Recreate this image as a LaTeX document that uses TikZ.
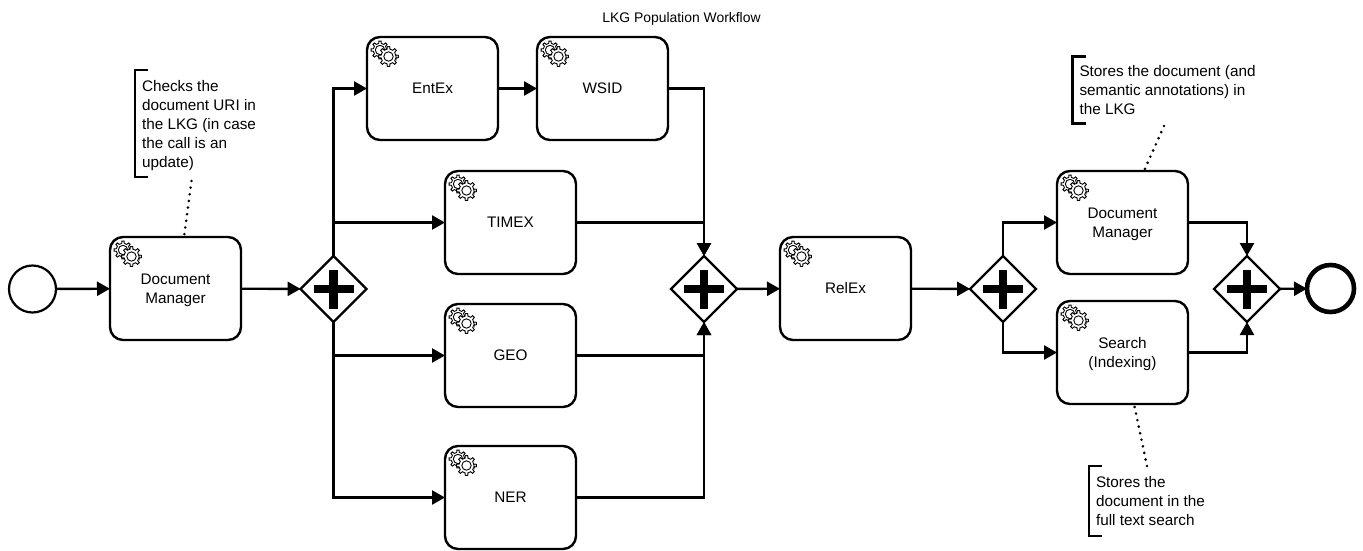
\documentclass[tikz,border=0pt]{standalone}
\usepackage{fontspec}
\setmainfont{Liberation Sans}
\usetikzlibrary{shapes.geometric,arrows.meta,calc}
\newcommand{\topfill}{\rule{0pt}{15pt}}
\tikzset{
  x=1pt,y=-1pt,
  txt/.style={font=\fontsize{15.3}{19}\selectfont},
  task/.style={draw,line width=2.4,rounded corners=13,minimum width=131,minimum height=103,inner sep=0,outer sep=0,align=center,txt},
  gate/.style={draw,line width=2.2,diamond,aspect=1,minimum width=66,minimum height=66,inner sep=0,outer sep=0},
  startev/.style={draw,circle,line width=2.2,minimum size=47,inner sep=0,outer sep=0},
  endev/.style={draw,circle,line width=4.6,minimum size=47,inner sep=0,outer sep=0},
  flow/.style={line width=2.4,-{Triangle[length=13,width=14]}},
  note/.style={anchor=north west,align=left,inner xsep=7,inner ysep=0,outer sep=0,txt},
  bracket/.style={line width=2.2},
  assoc/.style={line width=2.9,line cap=round,dash pattern=on 0pt off 6.7pt},
  gearline/.style={line width=0.9,fill=white}
}
\newcommand{\gearshape}[1]{% outer radius
  \draw[gearline]
    (0:#1*0.75)
    \foreach \a in {0,45,...,315} {
      -- (\a-11:#1*0.75) -- (\a-7:#1) -- (\a+7:#1) -- (\a+11:#1*0.75)
    } -- cycle;
  \draw[gearline] (0,0) circle[radius=4.7];
}
\newcommand{\gears}[1]{%
  \path (#1.north west) ++(13,13) coordinate (gb);
  \path (#1.north west) ++(21.5,19.5) coordinate (gf);
  \begin{scope}[shift={(gb)}]\gearshape{9}\end{scope}
  \begin{scope}[shift={(gf)}]\gearshape{10}\end{scope}
}
\newcommand{\plusmark}[1]{%
  \fill ($(#1)+(-20,-4.3)$) rectangle ($(#1)+(20,4.3)$);
  \fill ($(#1)+(-4.3,-19.5)$) rectangle ($(#1)+(4.3,19.5)$);
}
\newcommand{\bracketfor}[1]{%
  \draw[bracket] ($(#1.north west)+(13,0)$) -- (#1.north west) -- (#1.south west) -- ($(#1.south west)+(13,0)$);
}
\begin{document}
\begin{tikzpicture}
\useasboundingbox (0,0) rectangle (1363,550);
\node[font=\fontsize{13.9}{16}\selectfont] (title) at (681.5,19) {LKG Population Workflow};
\node[startev] (start) at (32.5,289) {};
\node[task] (dm1) at (175.5,288.5) {\topfill Document\\Manager};
\node[gate] (g1) at (333.5,289) {};
\node[task] (ent) at (432.5,88.5) {EntEx};
\node[task] (wsid) at (602.5,88.5) {WSID};
\node[task] (timex) at (510.5,222.5) {TIMEX};
\node[task] (geo) at (510.5,355.5) {GEO};
\node[task] (ner) at (510.5,497.5) {NER};
\node[gate] (g2) at (704,289) {};
\node[task] (relex) at (845.5,288.5) {RelEx};
\node[gate] (g3) at (1003,289) {};
\node[task] (dm2) at (1122.5,222.5) {\topfill Document\\Manager};
\node[task] (search) at (1122.5,352.5) {\topfill Search\\(Indexing)};
\node[gate] (g4) at (1247,289) {};
\node[endev] (stop) at (1330.5,288.5) {};
\foreach \n in {dm1,ent,wsid,timex,geo,ner,relex,dm2,search} {\gears{\n}}
\foreach \n in {g1,g2,g3,g4} {\plusmark{\n}}
\draw[flow] (start) -- (dm1);
\draw[flow] (dm1) -- (g1);
\draw[flow] (g1.north) |- (ent.west);
\draw[flow] (ent) -- (wsid);
\draw[flow] (g1.north) |- (timex.west);
\draw[flow] (g1.south) |- (geo.west);
\draw[flow] (g1.south) |- (ner.west);
\draw[flow] (wsid.east) -| (g2.north);
\draw[flow] (timex.east) -| (g2.north);
\draw[flow] (geo.east) -| (g2.south);
\draw[flow] (ner.east) -| (g2.south);
\draw[flow] (g2) -- (relex);
\draw[flow] (relex) -- (g3);
\draw[flow] (g3.north) |- (dm2.west);
\draw[flow] (g3.south) |- (search.west);
\draw[flow] (dm2.east) -| (g4.north);
\draw[flow] (search.east) -| (g4.south);
\draw[flow] (g4) -- (stop);
\node[note,minimum height=107] (n1) at (135,70) {\topfill Checks the\\document URI in\\the LKG (in case\\the call is an\\update)};
\node[note,minimum height=67] (n2) at (1072.5,56.5) {Stores the document (and\\semantic annotations) in\\the LKG};
\node[note,minimum height=70] (n3) at (1089,466) {Stores the\\document in the\\full text search};
\foreach \n in {n1,n2,n3} {\bracketfor{\n}}
\coordinate (a1) at (191.5,181);
\coordinate (a2) at (1164,126);
\coordinate (a3) at (1147,466);
\draw[assoc] (a1) -- ($(dm1.north)+(8.5,0)$);
\draw[assoc] (a2) -- ($(dm2.north)+(21.5,0)$);
\draw[assoc] (a3) -- ($(search.south)+(11.5,0)$);
\end{tikzpicture}
\end{document}
